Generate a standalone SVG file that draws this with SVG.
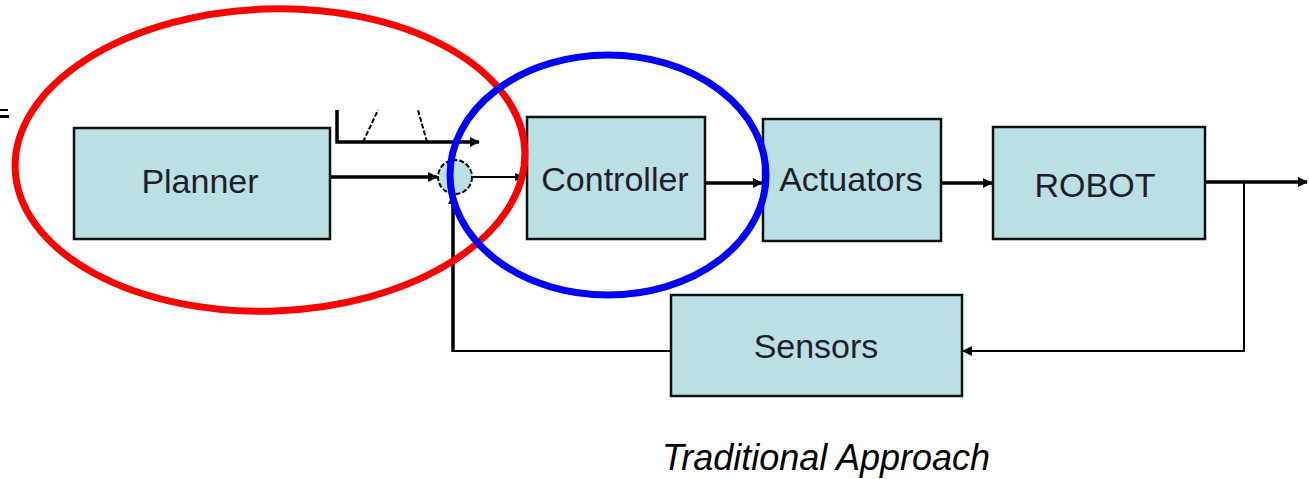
<svg xmlns="http://www.w3.org/2000/svg" width="1309" height="479" viewBox="0 0 1309 479">
<style>
.box{fill:#bae0e3;stroke:#111;stroke-width:2.5}
.lbl{font-family:"Liberation Sans",Arial,sans-serif;font-size:34px;fill:#1e1e2e;text-anchor:middle}
.w{stroke:#000;stroke-width:3.5;fill:none}
.t{stroke:#000;stroke-width:2;fill:none}
</style>
<defs>
<marker id="ah" markerWidth="10" markerHeight="10" refX="9" refY="5" orient="auto" markerUnits="userSpaceOnUse">
<path d="M0,0 L10,5 L0,10 Z" fill="#000"/>
</marker>
<marker id="ahs" markerWidth="10" markerHeight="10" refX="9" refY="5" orient="auto" markerUnits="userSpaceOnUse">
<path d="M0,1 L10,5 L0,9 Z" fill="#000"/>
</marker>
</defs>
<rect x="0" y="0" width="1309" height="479" fill="#fff"/>
<g id="eq"><rect x="0" y="109" width="8" height="2" fill="#000"/><rect x="0" y="115" width="9" height="3" fill="#000"/></g>
<g id="connectors">
<path class="w" d="M337,110 V142 H479" marker-end="url(#ah)"/>
<path d="M363,142 L378,110 M427,142 L418,110" stroke="#000" stroke-width="2" stroke-dasharray="5,2" fill="none"/>
<path class="w" d="M330,177 H437" marker-end="url(#ah)"/>
<path class="t" d="M472,177 H524" marker-end="url(#ahs)"/>
<path class="w" d="M705,183 H762" marker-end="url(#ah)"/>
<path class="w" d="M941,183 H992" marker-end="url(#ah)"/>
<path class="w" d="M1205,182 H1307" marker-end="url(#ah)"/>
<path class="t" d="M1244,182 V351 H963" marker-end="url(#ah)"/>
<path class="t" d="M671,351 H453"/>
<path class="w" d="M453,352 V195" marker-end="url(#ah)"/>
</g>
<g id="junction"><circle cx="455" cy="177" r="17" fill="#bae0e3" stroke="#000" stroke-width="2" stroke-dasharray="5,2"/></g>
<g id="planner"><rect class="box" x="74" y="128" width="256" height="111"/><text class="lbl" x="200" y="193">Planner</text></g>
<g id="controller"><rect class="box" x="527" y="117" width="178" height="122"/><text class="lbl" x="615" y="191">Controller</text></g>
<g id="actuators"><rect class="box" x="763" y="119" width="178" height="122"/><text class="lbl" x="851" y="191">Actuators</text></g>
<g id="robot"><rect class="box" x="993" y="127" width="212" height="112"/><text class="lbl" x="1095" y="197">ROBOT</text></g>
<g id="sensors"><rect class="box" x="671" y="295" width="291" height="101"/><text class="lbl" x="816" y="358">Sensors</text></g>
<g id="highlights">
<ellipse cx="270" cy="160" rx="255" ry="151" fill="none" stroke="#ff0000" stroke-width="7" transform="rotate(-2 270 160)"/>
<ellipse cx="608" cy="175" rx="158" ry="120" fill="none" stroke="#0000ff" stroke-width="7"/>
</g>
<text x="826" y="470" font-family="Liberation Sans,Arial,sans-serif" font-size="36" font-style="italic" text-anchor="middle" fill="#000">Traditional Approach</text>
</svg>
